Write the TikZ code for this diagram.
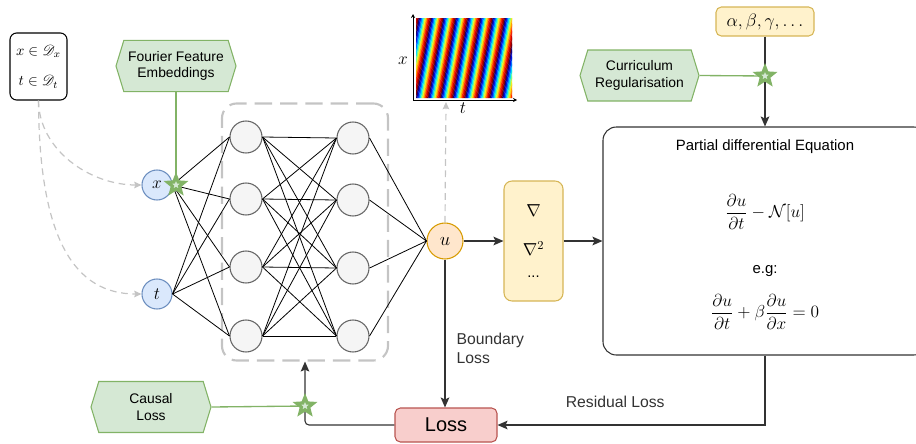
\RequirePackage{fix-cm}
\documentclass[tikz,border=0pt]{standalone}
\usepackage{amsmath}
\usepackage{amssymb}
\usepackage{mathrsfs}
\usepackage[no-math]{fontspec}
\setmainfont{Liberation Sans}
\usetikzlibrary{shapes.geometric,shapes.symbols,arrows.meta}

\definecolor{gruenF}{HTML}{D5E8D4}
\definecolor{gruenR}{HTML}{82B366}
\definecolor{blauF}{HTML}{DAE8FC}
\definecolor{blauR}{HTML}{6C8EBF}
\definecolor{orangeF}{HTML}{FFE6CC}
\definecolor{orangeR}{HTML}{D79B00}
\definecolor{gelbF}{HTML}{FFF2CC}
\definecolor{gelbR}{HTML}{D6B656}
\definecolor{rotF}{HTML}{F8CECC}
\definecolor{rotR}{HTML}{B85450}
\definecolor{grauF}{HTML}{F5F5F5}
\definecolor{grauR}{HTML}{666666}
\definecolor{strich}{HTML}{C4C4C4}
\definecolor{dunkel}{HTML}{333333}
% Farbskala (jet)
\definecolor{jet0}{HTML}{1A0070}
\definecolor{jet1}{HTML}{0010E0}
\definecolor{jet2}{HTML}{0070FF}
\definecolor{jet3}{HTML}{00D8FF}
\definecolor{jet4}{HTML}{70FF90}
\definecolor{jet5}{HTML}{F0F020}
\definecolor{jet6}{HTML}{FFA000}
\definecolor{jet7}{HTML}{FF3000}
\definecolor{jet8}{HTML}{D00000}
\definecolor{jet9}{HTML}{8A0000}

\begin{document}
\begin{tikzpicture}[
    x=0.75pt, y=-0.75pt,
    font=\fontsize{10.4}{12.5}\selectfont,
    >={Stealth[length=7.5pt,width=6.5pt,inset=1.5pt]} % Pfeilspitzen
    ]
        \useasboundingbox (0,0) rectangle (916,443);

        \tikzset{
            hexa/.style={signal, signal to=east and west, signal pointer angle=146,
                draw=gruenR, fill=gruenF, line width=0.8pt, align=center,
                minimum width=90pt, minimum height=38.5pt, inner sep=1pt},
            stern/.style={star, star points=5, star point ratio=2.3, minimum size=13pt,
                inner sep=0pt, fill=gruenF, draw=gruenR, line width=2.4pt},
            eingang/.style={circle, draw=blauR, fill=blauF, line width=0.8pt,
                minimum size=22.5pt, inner sep=0pt, font=\fontsize{13}{15}\selectfont},
            neuron/.style={circle, draw=grauR, fill=grauF, line width=0.8pt,
                minimum size=24pt, inner sep=0pt},
            kiste/.style={rectangle, rounded corners=#1, line width=0.8pt, inner sep=0pt, align=center},
            kante/.style={black, line width=0.6pt},
            pfeil/.style={dunkel, line width=0.8pt, ->},
            gruenlinie/.style={gruenR, line width=1pt},
            graupfeil/.style={strich, line width=0.9pt, dash pattern=on 5pt off 3.5pt,
                -{Stealth[length=5.5pt,width=5pt,inset=1pt]}},
            beschriftung/.style={font=\fontsize{11.8}{14}\selectfont, align=left}
        }

        % Netz-Rahmen
        \node[kiste=11pt, draw=strich, line width=1.6pt, dash pattern=on 13pt off 6pt,
            minimum width=124.5pt, minimum height=192.75pt] (net) at (305,232) {};

        % Knoten
        \node[kiste=5pt, draw=black, minimum width=42.75pt, minimum height=50.25pt,
            font=\fontsize{11}{13}\selectfont] (dom) at (38.5,66.5)
            {$x \in \mathscr{D}_x$\\[10pt]$t \in \mathscr{D}_t$};
        \node[hexa] (fourier) at (176,66) {Fourier Feature\\Embeddings};
        \node[eingang] (xin) at (157,185) {$x$};
        \node[eingang] (tin) at (157,294) {$t$};

        \foreach \y [count=\i] in {137,199,267,336}
            \node[neuron] (ha-\i) at (246,\y) {};
        \foreach \y [count=\i] in {138,200,268,336}
            \node[neuron] (hb-\i) at (353,\y) {};

        \node[circle, draw=orangeR, fill=orangeF, line width=0.8pt, minimum size=27pt,
            inner sep=0pt, font=\fontsize{14}{16}\selectfont] (u) at (445,241) {$u$};
        \node[kiste=6pt, draw=gelbR, fill=gelbF, minimum width=44.25pt, minimum height=90pt,
            font=\fontsize{13}{15.6}\selectfont] (grad) at (533.5,241)
            {$\nabla$\\[14pt]$\nabla^2$\\[1pt]{\fontsize{11}{13}\selectfont ...}};
        \node[kiste=10pt, draw=dunkel, fill=white, minimum width=243pt,
            minimum height=171pt] (pde) at (765,241) {};
        \node[font=\fontsize{11.2}{13}\selectfont] (pdetitel) at (765,147) {Partial differential Equation};
        \node[font=\fontsize{13}{15}\selectfont] (pdeop) at (765,212)
            {$\dfrac{\partial u}{\partial t} - \mathcal{N}[u]$};
        \node[font=\fontsize{11.2}{13}\selectfont] (eg) at (765,271) {e.g:};
        \node[font=\fontsize{13}{15}\selectfont] (pdebsp) at (765,312)
            {$\dfrac{\partial u}{\partial t} + \beta\dfrac{\partial u}{\partial x} = 0$};
        \node[kiste=4pt, draw=gelbR, fill=gelbF, minimum width=73.5pt, minimum height=21.75pt,
            font=\fontsize{13.5}{15}\selectfont] (param) at (765,21.5) {$\alpha, \beta, \gamma, \ldots$};
        \node[hexa, minimum width=89.25pt, minimum height=38.25pt] (curri) at (639.5,75.5)
            {Curriculum\\Regularisation};
        \node[hexa, minimum height=38.25pt] (kausal) at (151,407) {Causal\\Loss};
        \node[kiste=4pt, draw=rotR, fill=rotF, minimum width=76.5pt, minimum height=25.5pt,
            font=\fontsize{15}{18}\selectfont] (loss) at (446,425) {Loss};

        % Loesung u(x,t)
        \begin{scope}
            \clip (416,18) rectangle (512,98);
            \foreach \i in {-14,...,80} {
                \pgfmathtruncatemacro{\k}{mod(\i+100,10)}
                \fill[jet\k] (416+\i*1.23,98) -- ++(1.45,0) -- ++(15,-80) -- ++(-1.45,0) -- cycle;
            }
        \end{scope}
        \coordinate (ursprung) at (413,100);
        \coordinate (xende) at (413,14);
        \coordinate (tende) at (517,100);
        \coordinate (tachse) at (446,102);
        \draw[line width=0.6pt, -{Stealth[length=3pt,width=3pt]}] (ursprung) -- (xende);
        \draw[line width=0.6pt, -{Stealth[length=3pt,width=3pt]}] (ursprung) -- (tende);
        \node[font=\fontsize{13}{15}\selectfont] (xlbl) at (403,61) {$x$};
        \node[font=\fontsize{13}{15}\selectfont] (tlbl) at (463,108) {$t$};

        % Verbindungen im Netz
        \foreach \i in {1,...,4} {
            \draw[kante] (xin.east) -- (ha-\i.west);
            \draw[kante] (tin.east) -- (ha-\i.west);
            \draw[kante] (hb-\i.east) -- (u.west);
            \foreach \j in {1,...,4}
                \draw[kante] (ha-\i.east) -- (hb-\j.west);
        }

        % Eingaenge
        \draw[graupfeil] (dom.south) .. controls (39,150) and (90,185) .. (xin.west);
        \draw[graupfeil] (dom.south) .. controls (39,240) and (75,294) .. (tin.west);
        \draw[graupfeil] (u.north) -- (tachse);

        % Pfeile
        \draw[pfeil] (u) -- (grad);
        \draw[pfeil] (grad) -- (pde);
        \draw[pfeil] (param) -- (pde);
        \draw[pfeil] (u.south) -- node[pos=0.6, right=5pt, beschriftung] (randlbl) {Boundary\\Loss}
            (u.south |- loss.north);
        \draw[pfeil] (pde.south) |- node[pos=0.78, above=9pt, beschriftung] (reslbl) {Residual Loss}
            (loss.east);
        \draw[pfeil, rounded corners=3pt] (loss.west) -| (net.south);

        % Sterne
        \coordinate (fs) at (176,185);
        \coordinate (ps) at (765,76);
        \coordinate (ks) at (305,406);
        \draw[gruenlinie] (fourier.south) -- (fs);
        \draw[gruenlinie] (curri.east) -- (ps);
        \draw[gruenlinie] (kausal.east) -- (ks);
        \node[stern] (fstern) at (fs) {};
        \node[stern] (pstern) at (ps) {};
        \node[stern] (kstern) at (ks) {};
    \end{tikzpicture}
\end{document}
